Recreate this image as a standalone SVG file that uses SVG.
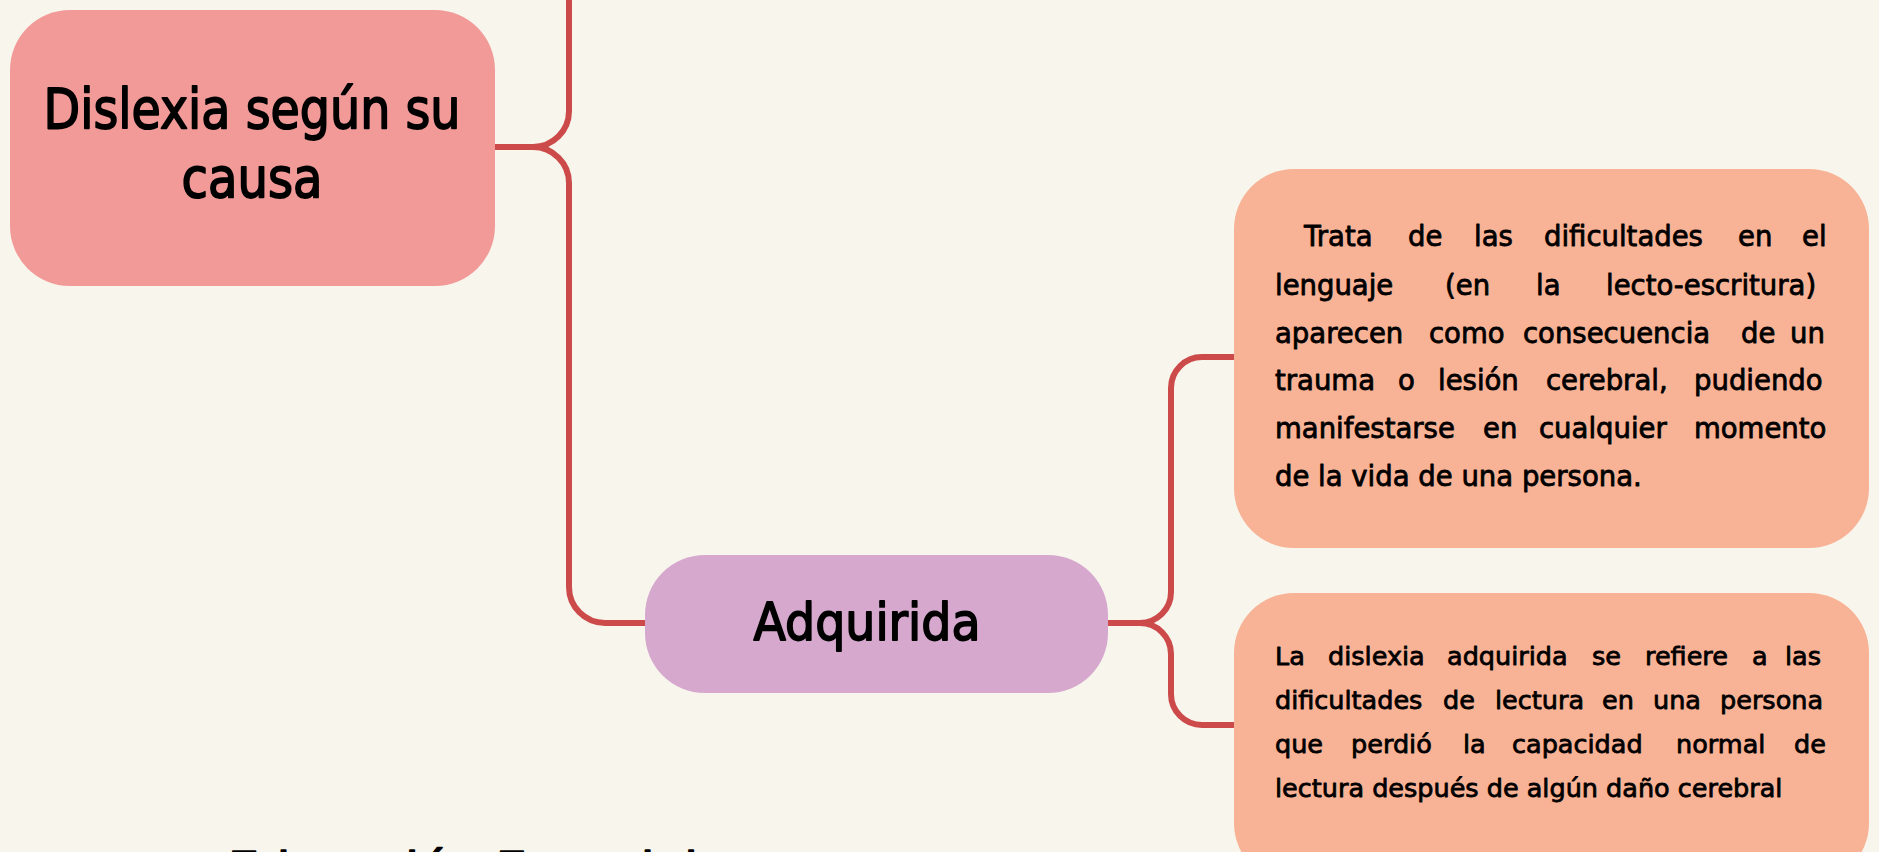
<svg xmlns="http://www.w3.org/2000/svg" width="1879" height="852" viewBox="0 0 1879 852">
<style>
.bg{fill:#F8F5EC}
.conn{fill:none;stroke:#CC4A4A;stroke-width:6;stroke-linecap:butt}
.t{font-family:"DejaVu Sans","Noto Sans",sans-serif;fill:#000;stroke:#000;stroke-width:0.8px;stroke-linejoin:round}
.title{font-size:56px;stroke-width:1.8px}
.sub{font-size:52px;stroke-width:1.8px}
.b1{font-size:27.5px}
.b2{font-size:25.5px}
.foot{font-size:46px;stroke-width:1.5px}
</style>
<rect class="bg" x="0" y="0" width="1879" height="852"/>
<g id="connectors">
<path class="conn" d="M495,147 H533 A36,36 0 0 0 569,111 V-5"/>
<path class="conn" d="M533,147 A36,36 0 0 1 569,183 V587 A36,36 0 0 0 605,623 H646"/>
<path class="conn" d="M1107,623 H1140 A31,31 0 0 0 1171,592 V388 A31,31 0 0 1 1202,357 H1235"/>
<path class="conn" d="M1140,623 A31,31 0 0 1 1171,654 V694 A31,31 0 0 0 1202,725 H1235"/>
</g>
<g id="node-causa">
<rect x="10" y="10" width="485" height="276" rx="60" fill="#F19A98"/>
<text class="t title" x="252" y="128" text-anchor="middle" textLength="417" lengthAdjust="spacingAndGlyphs">Dislexia según su</text>
<text class="t title" x="252" y="197" text-anchor="middle" textLength="141" lengthAdjust="spacingAndGlyphs">causa</text>
</g>
<g id="node-adquirida">
<rect x="645" y="555" width="463" height="138" rx="60" fill="#D6A8CE"/>
<text class="t sub" x="867" y="640" text-anchor="middle" textLength="227" lengthAdjust="spacingAndGlyphs">Adquirida</text>
</g>
<g id="node-def1">
<rect x="1234" y="169" width="635" height="379" rx="60" fill="#F8B295"/>
<text class="t b1" y="246"><tspan x="1304">Trata</tspan><tspan x="1408">de</tspan><tspan x="1474">las</tspan><tspan x="1544">dificultades</tspan><tspan x="1738">en</tspan><tspan x="1802">el</tspan></text>
<text class="t b1" y="295"><tspan x="1275">lenguaje</tspan><tspan x="1445">(en</tspan><tspan x="1536">la</tspan><tspan x="1606">lecto-escritura)</tspan></text>
<text class="t b1" y="343"><tspan x="1275">aparecen</tspan><tspan x="1429">como</tspan><tspan x="1523">consecuencia</tspan><tspan x="1741">de</tspan><tspan x="1790">un</tspan></text>
<text class="t b1" y="390"><tspan x="1275">trauma</tspan><tspan x="1398">o</tspan><tspan x="1438">lesión</tspan><tspan x="1546">cerebral,</tspan><tspan x="1694">pudiendo</tspan></text>
<text class="t b1" y="438"><tspan x="1275">manifestarse</tspan><tspan x="1483">en</tspan><tspan x="1539">cualquier</tspan><tspan x="1694">momento</tspan></text>
<text class="t b1" x="1275" y="486">de la vida de una persona.</text>
</g>
<g id="node-def2">
<rect x="1234" y="593" width="635" height="290" rx="60" fill="#F8B295"/>
<text class="t b2" y="665"><tspan x="1275">La</tspan><tspan x="1328">dislexia</tspan><tspan x="1447">adquirida</tspan><tspan x="1592">se</tspan><tspan x="1645">refiere</tspan><tspan x="1752">a</tspan><tspan x="1785">las</tspan></text>
<text class="t b2" y="709"><tspan x="1275">dificultades</tspan><tspan x="1443">de</tspan><tspan x="1495">lectura</tspan><tspan x="1602">en</tspan><tspan x="1653">una</tspan><tspan x="1720">persona</tspan></text>
<text class="t b2" y="753"><tspan x="1275">que</tspan><tspan x="1351">perdió</tspan><tspan x="1463">la</tspan><tspan x="1512">capacidad</tspan><tspan x="1676">normal</tspan><tspan x="1794">de</tspan></text>
<text class="t b2" x="1275" y="797">lectura después de algún daño cerebral</text>
</g>
<g id="footer">
<text class="t foot" x="228" y="885" textLength="470" lengthAdjust="spacingAndGlyphs">Educación Especial</text>
</g>
</svg>
